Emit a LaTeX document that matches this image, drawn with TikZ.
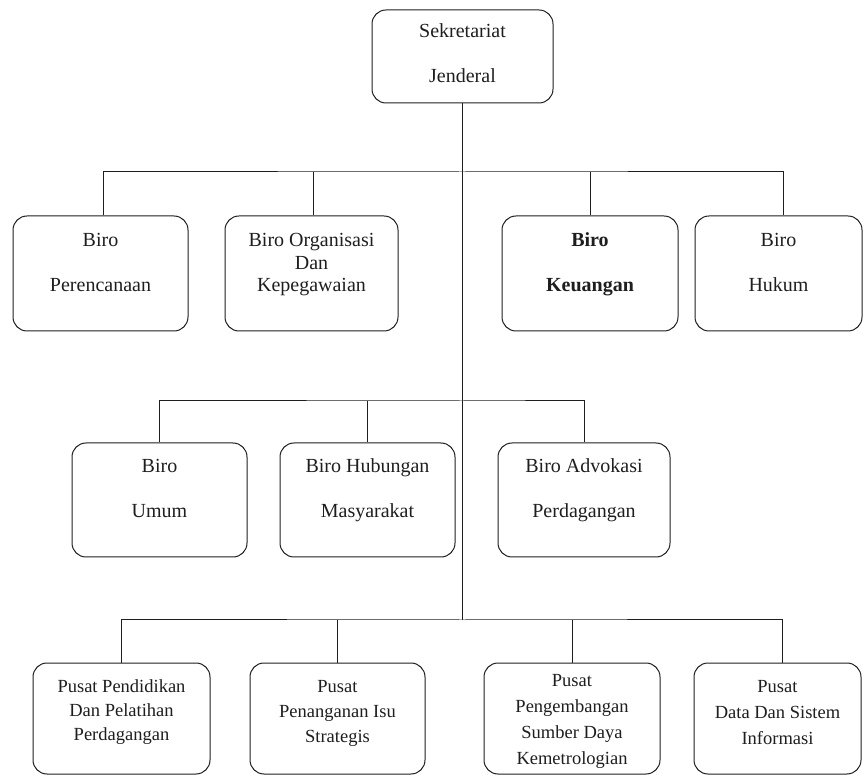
\documentclass[tikz,border=0pt]{standalone}
\usepackage{fontspec}
\setmainfont{Liberation Serif}
\definecolor{ink}{HTML}{1E1E1E}
\begin{document}
\begin{tikzpicture}[x=1pt, y=-1pt,
  box/.style={draw=ink, line width=1pt, rounded corners=14pt,
    minimum width=#1, minimum height=114pt, inner sep=0pt},
  wire/.style={draw=ink, line width=1pt},
  % labels are placed by the baseline of their last line
  lblwide/.style={anchor=base, align=center, inner sep=0pt, text=ink,
    font=\fontsize{20}{45}\selectfont},
  lblthree/.style={anchor=base, align=center, inner sep=0pt, text=ink,
    font=\fontsize{20}{22.5}\selectfont},
  lblsmall/.style={anchor=base, align=center, inner sep=0pt, text=ink,
    font=\fontsize{18.5}{#1}\selectfont}]
\useasboundingbox (0,0) rectangle (863,775);

% top unit
\node[box=181pt, minimum height=93pt] (sek) at (462.5,56.5) {};
\node[lblwide] (sekt) at (462.5,83) {Sekretariat\\Jenderal};

% first row of bureaus
\node[box=175pt, minimum height=115pt] (b1) at (100.5,273.5) {};
\node[box=173pt, minimum height=115pt] (b2) at (311.5,273.5) {};
\node[box=176pt, minimum height=115pt] (b3) at (590,273.5) {};
\node[box=167pt, minimum height=115pt] (b4) at (778.5,273.5) {};
\node[lblwide] (b1t) at (100.5,292) {Biro\\Perencanaan};
\node[lblthree] (b2t) at (311.5,292) {Biro Organisasi\\Dan\\Kepegawaian};
\node[lblwide, font=\fontsize{20}{45}\selectfont\bfseries] (b3t) at (590,292) {Biro\\Keuangan};
\node[lblwide] (b4t) at (778.5,292) {Biro\\Hukum};

% second row of bureaus
\node[box=175pt] (c1) at (159.5,500) {};
\node[box=175pt] (c2) at (367.5,500) {};
\node[box=172pt] (c3) at (584,500) {};
\node[lblwide] (c1t) at (159.5,518) {Biro\\Umum};
\node[lblwide] (c2t) at (367.5,518) {Biro Hubungan\\Masyarakat};
\node[lblwide] (c3t) at (584,518) {Biro Advokasi\\Perdagangan};

% centres
\node[box=177pt, minimum height=111pt] (d1) at (121.5,718.5) {};
\node[box=175pt, minimum height=111pt] (d2) at (337.5,718.5) {};
\node[box=176pt, minimum height=111pt] (d3) at (572,718.5) {};
\node[box=167pt, minimum height=111pt] (d4) at (777.5,718.5) {};
\node[lblsmall=24pt] (d1t) at (121.5,740) {Pusat Pendidikan\\Dan Pelatihan\\Perdagangan};
\node[lblsmall=25pt] (d2t) at (337.5,742) {Pusat\\Penanganan Isu\\Strategis};
\node[lblsmall=26pt] (d3t) at (572,764) {Pusat\\Pengembangan\\Sumber Daya\\Kemetrologian};
\node[lblsmall=26pt] (d4t) at (777.5,744) {Pusat\\Data Dan Sistem\\Informasi};

% trunk and branch lines
\coordinate (bus1) at (462.5,172);
\coordinate (bus2) at (462.5,401);
\coordinate (bus3) at (462.5,620);
\draw[wire] (sek.south) -- (bus3);

\draw[wire] ([xshift=2.5pt]b1.north) |- (bus1) -| ([xshift=4.5pt]b4.north);
\draw[wire] ([xshift=1.5pt]b2.north) -- ([xshift=1.5pt]b2.north |- bus1);
\draw[wire] (b3.north) -- (b3.north |- bus1);

\draw[wire] (c1.north) |- (bus2) -| (c3.north);
\draw[wire] (c2.north) -- (c2.north |- bus2);

\draw[wire] (d1.north) |- (bus3) -| ([xshift=4.5pt]d4.north);
\draw[wire] (d2.north) -- (d2.north |- bus3);
\draw[wire] (d3.north) -- (d3.north |- bus3);
\end{tikzpicture}
\end{document}
